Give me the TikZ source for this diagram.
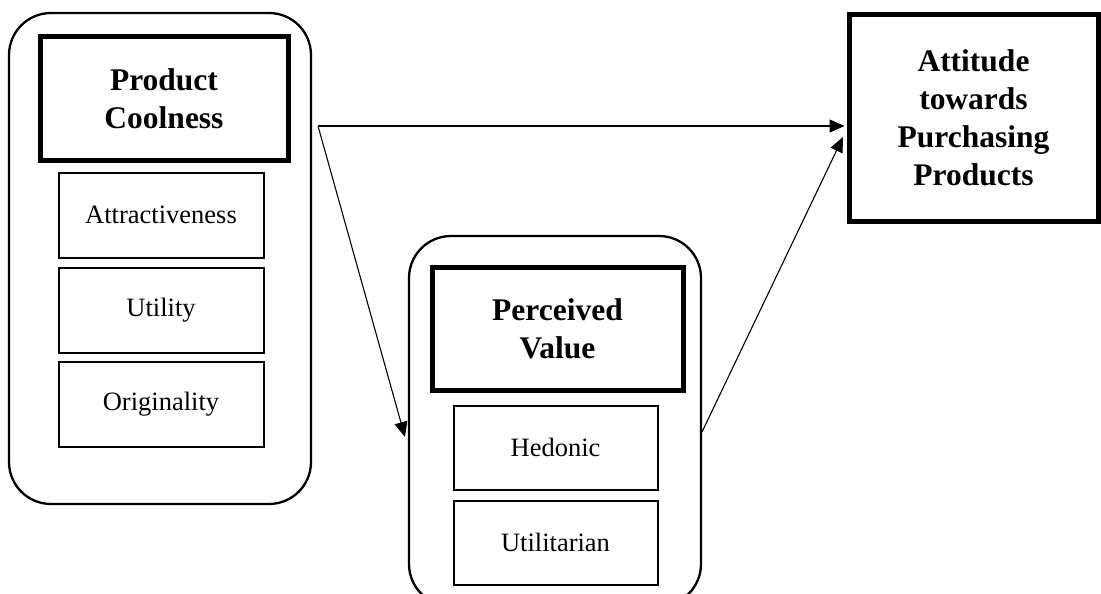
\documentclass[tikz,border=0pt]{standalone}
\usepackage{fontspec}
\setmainfont{Liberation Serif}
\usetikzlibrary{arrows.meta}
\begin{document}
\begin{tikzpicture}[x=1pt,y=-1pt,
  groupbox/.style={draw, line width=2.3pt, rounded corners=42pt, inner sep=0pt},
  headbox/.style={draw, line width=5pt, inner sep=0pt, align=center,
    font=\fontsize{31.5}{38}\selectfont\bfseries},
  itembox/.style={draw, line width=2pt, inner sep=0pt, align=center,
    font=\fontsize{26.5}{31}\selectfont},
  link/.style={line width=1.1pt, -{Triangle[length=15pt,width=13pt]}}]
\useasboundingbox (0,0) rectangle (1101,594);
\clip (0,0) rectangle (1101,594);
% left group
\node[groupbox, minimum width=302pt, minimum height=491pt] (lbox) at (160,258.5) {};
\node[headbox, minimum width=248pt, minimum height=123pt] (pc) at (164,98.5) {Product\\Coolness};
\node[itembox, minimum width=205pt, minimum height=85pt] (attr) at (161,215) {Attractiveness};
\node[itembox, minimum width=205pt, minimum height=85pt] (util) at (161,310) {Utility};
\node[itembox, minimum width=205pt, minimum height=85pt] (orig) at (161,404) {Originality};
% middle group
\node[groupbox, minimum width=292pt, minimum height=370pt] (mbox) at (555,421) {};
\node[headbox, minimum width=251pt, minimum height=123pt] (pv) at (557.5,328.5) {Perceived\\Value};
\node[itembox, minimum width=204pt, minimum height=84pt] (hed) at (555.5,447.5) {Hedonic};
\node[itembox, minimum width=204pt, minimum height=84pt] (utl) at (555.5,542.5) {Utilitarian};
% right
\node[headbox, minimum width=249pt, minimum height=206pt] (att) at (973.5,118) {Attitude\\towards\\Purchasing\\Products};
% connectors
\coordinate (s) at (318,126);
\coordinate (t2) at (405,437);
\coordinate (s3) at (702,432);
\coordinate (t3) at (843,137);
\draw[link] (s) -- ([xshift=-2pt]att.west |- s);
\draw[link] (s) -- (t2);
\draw[link] (s3) -- (t3);
\end{tikzpicture}
\end{document}
